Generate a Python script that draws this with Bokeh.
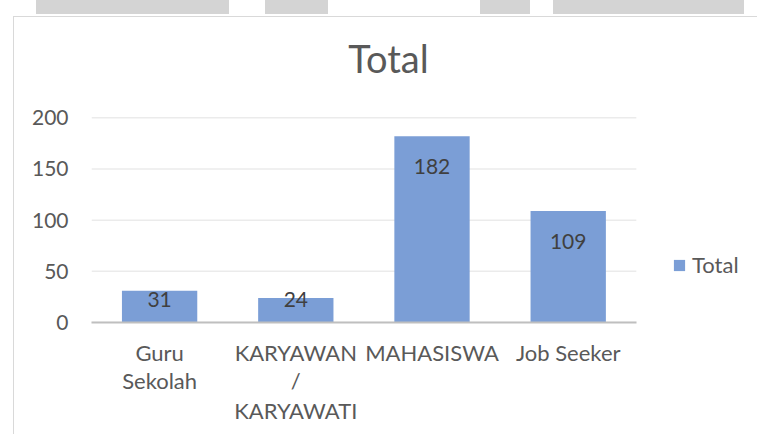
from bokeh.plotting import figure
from bokeh.models import (ColumnDataSource, Legend, LegendItem, Div, Range1d,
                          FixedTicker, LinearAxis, Label)
from bokeh.layouts import column
from bokeh.embed import file_html
from bokeh.resources import INLINE
from bokeh.core.properties import value

# ---- data ----
categories = ["Guru Sekolah", "KARYAWAN / KARYAWATI", "MAHASISWA", "Job Seeker"]
label_line1 = ["Guru", "KARYAWAN", "MAHASISWA", "Job Seeker"]
label_line2 = ["Sekolah", "/", "", ""]
label_line3 = ["", "KARYAWATI", "", ""]
totals = [31, 24, 182, 109]
y_ticks = [0, 50, 100, 150, 200]
series_name = "Total"
chart_title = "Total"

FONT = "Lato"
TXT = "#595959"

n = len(categories)
idx = [i + 0.5 for i in range(n)]
# plot area continues to the right edge (legend space): 544px for the categories, 666px total
x_end = n * 666 / 544
# plot area also continues upward (title space): 204px for 0..200, 302px total
y_end = y_ticks[-1] * 302 / 204

# data labels: inside end, kept above the axis for short bars
label_y = [max(v - 29.4, 22.5) for v in totals]
src = ColumnDataSource(dict(x=idx, total=totals,
                            label=[str(v) for v in totals], label_y=label_y))

p = figure(x_range=Range1d(0, x_end), y_range=Range1d(0, y_end),
           width=744, height=418, output_backend="svg", toolbar_location=None,
           min_border_left=77, min_border_right=0, min_border_top=2,
           min_border_bottom=113, outline_line_color=None, margin=(0, 0, 0, 13))
p.styles = {"border-top": "1px solid #D9D9D9", "border-left": "1px solid #D9D9D9"}

# chart title, centred over the chart area above the bars
title = Label(x=2.18, y=258, text=chart_title, text_font=FONT,
              text_font_size="38px", text_color=TXT, text_align="center",
              text_baseline="middle")
p.add_layout(title)

# horizontal gridlines across the category area only
p.xgrid.grid_line_color = None
p.ygrid.grid_line_color = None
p.segment(x0=[0] * len(y_ticks), x1=[n] * len(y_ticks), y0=y_ticks, y1=y_ticks,
          line_color="#EBEBEB", line_width=1.5)

r = p.vbar(x="x", top="total", width=0.553, source=src,
           fill_color="#7B9ED6", line_color=None)

p.text(x="x", y="label_y", text="label", source=src,
       text_font=value(FONT), text_font_size="21px", text_color="#404040",
       text_align="center", text_baseline="middle")

# x axis: one axis per text line of the category labels
xa = p.xaxis[0]
xa.ticker = FixedTicker(ticks=idx)
xa.bounds = (0, n)
xa.major_label_overrides = dict(zip(idx, label_line1))
xa.axis_line_color = "#BFBFBF"
xa.axis_line_width = 2
xa.major_tick_line_color = None
xa.minor_tick_line_color = None
xa.major_label_text_font = FONT
xa.major_label_text_font_size = "22px"
xa.major_label_text_color = TXT
xa.major_label_standoff = 10

for lines, standoff in [(label_line2, -8), (label_line3, -6)]:
    ax = LinearAxis(ticker=FixedTicker(ticks=idx),
                    major_label_overrides=dict(zip(idx, lines)),
                    axis_line_color=None, major_tick_line_color=None,
                    minor_tick_line_color=None, major_label_text_font=FONT,
                    major_label_text_font_size="22px", major_label_text_color=TXT,
                    major_label_standoff=standoff)
    p.add_layout(ax, "below")

ya = p.yaxis[0]
ya.ticker = FixedTicker(ticks=y_ticks)
ya.axis_line_color = None
ya.major_tick_line_color = None
ya.minor_tick_line_color = None
ya.major_label_text_font = FONT
ya.major_label_text_font_size = "21px"
ya.major_label_text_color = TXT
ya.major_label_standoff = 17

legend = Legend(items=[LegendItem(label=series_name, renderers=[r])],
                location=(581, 44), padding=0, margin=0, glyph_width=14,
                glyph_height=14, label_standoff=6, border_line_color=None,
                background_fill_alpha=0, label_text_font=FONT,
                label_text_font_size="22px", label_text_color=TXT)
p.add_layout(legend, "center")

bars_html = "".join(
    f'<div style="position:absolute;left:{a}px;width:{b - a}px;top:0;height:14px;background:#D4D4D4"></div>'
    for a, b in [(36, 229), (265, 328), (480, 530), (553, 744)])
top = Div(text=f'<div style="position:relative;width:757px;height:16px">{bars_html}</div>',
          width=757, height=16, margin=0)

layout = column(top, p, spacing=0, margin=0)
open("out.html", "w").write(file_html(layout, INLINE))
